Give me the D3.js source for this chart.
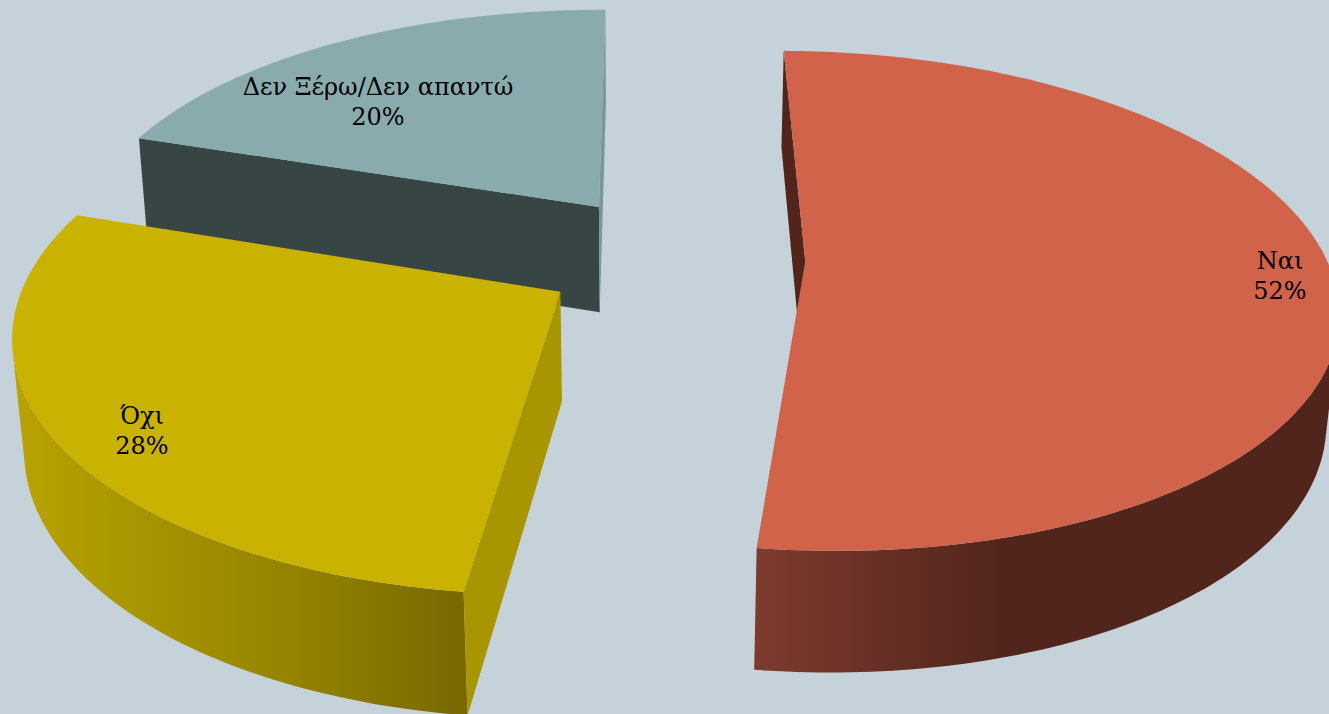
<!DOCTYPE html>
<html><head><meta charset="utf-8">
<script src="https://cdn.jsdelivr.net/npm/d3@7"></script>
<style>html,body{margin:0;padding:0;background:#c6d2d9;overflow:hidden}svg{display:block}</style>
</head><body><svg id="c" width="1329" height="714"></svg>
<script>
const categories=["Ναι","Όχι","Δεν Ξέρω/Δεν απαντώ"];
const values=[52,28,20];
const topColors=["#d0634a","#c9b200","#8aabad"];
const startWallColors=["#52251c","#a89500","#374545"];
const endWallColors=["#52251c","#a89500","#7a9697"];
const rimShadeX=[[755,830,1000,1329],[15,170,300,470],[139,607]];
const rimShadeColor=[["#7d3b2d","#70342a","#52251c","#52251c"],["#b8a300","#a49100","#938200","#766800"],["#374545","#374545"]];
const labelPos=[[1280,269],[142,424],[378,95]];

// projective map of the pie plane onto the picture
const H={x0:678.3954,y0:257.1782,a:526.3162,b:102.3703,c:2.4315,d:-202.0466,g:0.0033,h:0.1581};
const explode=[0.2420,0.2620,0.2631], depth=0.0184, vanish=[642.3,6228.7];

const pie=d3.pie().sort(null).value(d=>d)(values);
function project(X,Y){
  const w=1+H.g*X+H.h*Y;
  return {x:(H.x0+H.a*X+H.b*Y)/w,y:(H.y0+H.c*X+H.d*Y)/w,w};
}
function onTop(i,theta,r){
  const m=(pie[i].startAngle+pie[i].endAngle)/2;
  return project(r*Math.sin(theta)+explode[i]*Math.sin(m),r*Math.cos(theta)+explode[i]*Math.cos(m));
}
function below(q){
  return {x:(q.x*q.w+depth*vanish[0])/(q.w+depth),y:(q.y*q.w+depth*vanish[1])/(q.w+depth)};
}
const cross=(o,a,b)=>(a.x-o.x)*(b.y-o.y)-(a.y-o.y)*(b.x-o.x);
const svg=d3.select("#c");
const defs=svg.append("defs");
rimShadeX.forEach((xs,i)=>{
  const x0=xs[0],x1=xs[xs.length-1];
  const g=defs.append("linearGradient").attr("id","rim"+i).attr("gradientUnits","userSpaceOnUse")
    .attr("x1",x0).attr("x2",x1).attr("y1",0).attr("y2",0);
  xs.forEach((x,k)=>g.append("stop").attr("offset",(x-x0)/(x1-x0)).attr("stop-color",rimShadeColor[i][k]));
});
const line=d3.line().x(d=>d.x).y(d=>d.y);
[2,1,0].forEach(i=>{
  const a=pie[i].startAngle,b=pie[i].endAngle,n=Math.round((b-a)/Math.PI*180);
  const thetas=d3.range(n+1).map(k=>a+(b-a)*k/n);
  const rim=thetas.map(t=>onTop(i,t,1)),rimBottom=rim.map(below);
  const apex=onTop(i,a,0),apexBottom=below(apex),mid=rim[Math.round(n/2)];
  const g=svg.append("g");
  const front=d3.range(n).filter(k=>cross(rim[k],rim[k+1],rimBottom[k])*cross(rim[k],rim[k+1],apex)<0);
  if(front.length) g.append("path")
    .attr("d",front.map(k=>line([rim[k],rim[k+1],rimBottom[k+1],rimBottom[k]])+"Z").join(""))
    .attr("fill","url(#rim"+i+")");
  [[rim[0],rimBottom[0],startWallColors[i]],[rim[n],rimBottom[n],endWallColors[i]]].forEach(([r,rb,color])=>{
    if(cross(apex,r,apexBottom)*cross(apex,r,mid)<0)
      g.append("path").attr("d",line([apex,r,rb,apexBottom])+"Z").attr("fill",color);
  });
  g.append("path").attr("d",line([apex].concat(rim))+"Z").attr("fill",topColors[i]);
});
categories.forEach((c,i)=>{
  const t=svg.append("text").attr("text-anchor","middle").attr("font-family","'DejaVu Serif',serif")
    .attr("font-size",24).attr("fill","#000");
  t.append("tspan").attr("x",labelPos[i][0]).attr("y",labelPos[i][1]).text(c);
  t.append("tspan").attr("x",labelPos[i][0]).attr("y",labelPos[i][1]+30).text(values[i]+"%");
});
</script></body></html>
